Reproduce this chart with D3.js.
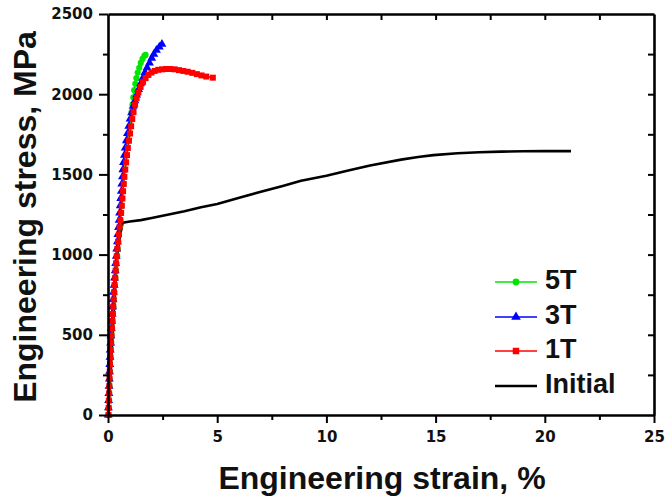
<!DOCTYPE html>
<html><head><meta charset="utf-8">
<script src="https://cdn.jsdelivr.net/npm/d3@7"></script>
<style>
html,body{margin:0;padding:0;background:#fff;}
svg{display:block;}
.tick text{font-family:"DejaVu Sans",sans-serif;font-weight:bold;font-size:15px;fill:#111;}
</style>
</head><body>
<svg id="chart" width="671" height="498"></svg>
<script>
// ---- data ----
const seriesNames = ["5T", "3T", "1T", "Initial"];
const xTicks = [0, 5, 10, 15, 20, 25];
const yTicks = [0, 500, 1000, 1500, 2000, 2500];
const xMinor = [2.5, 7.5, 12.5, 17.5, 22.5];
const yMinor = [250, 750, 1250, 1750, 2250];

const strain5T = [0.03,0.04,0.05,0.06,0.07,0.08,0.09,0.10,0.12,0.13,0.15,0.17,0.19,0.21,0.23,0.25,0.27,0.29,0.32,0.34,0.37,0.39,0.42,0.45,0.48,0.51,0.54,0.57,0.60,0.62,0.65,0.68,0.71,0.73,0.76,0.80,0.83,0.87,0.91,0.96,1.00,1.04,1.08,1.12,1.16,1.20,1.25,1.30,1.36,1.43,1.50,1.58,1.67,1.72];
const stress5T = [0,45,90,135,180,225,270,315,360,405,450,495,540,585,630,675,720,765,810,855,900,945,990,1035,1080,1125,1170,1215,1260,1305,1350,1395,1440,1485,1530,1575,1620,1665,1710,1755,1800,1845,1890,1935,1980,2025,2065,2100,2135,2165,2195,2220,2240,2245];

const strain3T = [0.01,0.02,0.03,0.04,0.05,0.06,0.07,0.08,0.09,0.10,0.12,0.13,0.15,0.17,0.19,0.21,0.23,0.25,0.28,0.30,0.33,0.35,0.38,0.40,0.43,0.45,0.48,0.51,0.53,0.56,0.58,0.61,0.63,0.66,0.68,0.71,0.75,0.79,0.84,0.89,0.95,1.01,1.08,1.15,1.23,1.31,1.40,1.49,1.59,1.69,1.79,1.90,2.00,2.10,2.22,2.35,2.47];
const stress3T = [0,45,90,135,180,225,270,315,360,405,450,495,540,585,630,675,720,765,810,855,900,945,990,1035,1080,1125,1170,1215,1260,1305,1350,1395,1440,1485,1530,1575,1620,1665,1710,1755,1800,1845,1885,1925,1960,1995,2030,2065,2100,2135,2165,2195,2225,2250,2275,2295,2312];

const strain1T = [0.02,0.03,0.04,0.05,0.06,0.07,0.08,0.09,0.11,0.12,0.14,0.16,0.18,0.20,0.22,0.24,0.26,0.28,0.30,0.33,0.35,0.37,0.40,0.43,0.46,0.50,0.53,0.56,0.60,0.63,0.66,0.69,0.72,0.75,0.79,0.83,0.87,0.91,0.96,1.01,1.06,1.11,1.17,1.24,1.31,1.39,1.49,1.60,1.72,1.85,1.99,2.14,2.30,2.48,2.66,2.85,3.05,3.25,3.45,3.65,3.86,4.07,4.28,4.50,4.80];
const stress1T = [0,45,90,135,180,225,270,315,360,405,450,495,540,585,630,675,720,765,810,855,900,945,990,1035,1080,1125,1170,1215,1260,1305,1350,1395,1440,1485,1530,1575,1620,1665,1710,1755,1800,1845,1890,1935,1975,2010,2045,2075,2100,2120,2135,2145,2152,2155,2157,2157,2155,2150,2145,2140,2133,2125,2117,2110,2103];

const strainInit = [0,0.05,0.10,0.15,0.20,0.25,0.30,0.37,0.45,0.55,0.67,0.80,1.0,1.5,2.0,2.5,3.0,3.5,4.26,5.0,6.09,7.0,8.0,8.84,10.0,11.0,12.0,13.42,14.2,14.9,16.0,17.0,18.0,19.0,20.0,21.2];
const stressInit = [0,100,220,350,480,600,730,900,1020,1120,1198,1202,1206,1215,1228,1242,1256,1270,1295,1316,1358,1392,1428,1460,1492,1524,1556,1592,1608,1620,1632,1638,1642,1644,1645,1645];

const colors = {"5T":"#00e600","3T":"#0000ff","1T":"#ff0000","Initial":"#000000"};

// ---- layout ----
const svg = d3.select("#chart");
const L = 108, R = 654, T = 14, B = 415;
const x = d3.scaleLinear().domain([0, 25]).range([L, R]);
const y = d3.scaleLinear().domain([0, 2500]).range([B, T]);

const ser = {
  "5T": d3.zip(strain5T, stress5T),
  "3T": d3.zip(strain3T, stress3T),
  "1T": d3.zip(strain1T, stress1T),
  "Initial": d3.zip(strainInit, stressInit)
};

const line = d3.line().x(d => x(d[0])).y(d => y(d[1]));

// plot data
const plot = svg.append("g");
plot.append("path").datum(ser["Initial"]).attr("d", line)
  .attr("fill","none").attr("stroke","#000").attr("stroke-width",2.6).attr("stroke-linejoin","round");

const symType = {"5T": d3.symbolCircle, "3T": d3.symbolTriangle, "1T": d3.symbolSquare};
const symSize = {"5T": 30, "3T": 34, "1T": 36};
["5T","3T","1T"].forEach(k => {
  const g = plot.append("g");
  g.append("path").datum(ser[k]).attr("d", line)
    .attr("fill","none").attr("stroke",colors[k]).attr("stroke-width",1.5);
  g.selectAll("path.m").data(ser[k]).join("path").attr("class","m")
    .attr("transform", d => `translate(${x(d[0])},${y(d[1])})`)
    .attr("d", d3.symbol().type(symType[k]).size(symSize[k]))
    .attr("fill", colors[k]);
});

// axes
function styleAxis(g){
  g.select(".domain").attr("stroke","#000").attr("stroke-width",2.6);
  g.selectAll(".tick line").attr("stroke","#000").attr("stroke-width",2);
}
const gx = svg.append("g").attr("transform",`translate(0,${B})`)
  .call(d3.axisBottom(x).tickValues(xTicks).tickFormat(d3.format("d")).tickSizeInner(8).tickSizeOuter(0).tickPadding(8));
styleAxis(gx);
const gxm = svg.append("g").attr("transform",`translate(0,${B})`)
  .call(d3.axisBottom(x).tickValues(xMinor).tickFormat("").tickSizeInner(5).tickSizeOuter(0));
styleAxis(gxm); gxm.select(".domain").remove();

const gy = svg.append("g").attr("transform",`translate(${L},0)`)
  .call(d3.axisLeft(y).tickValues(yTicks).tickFormat(d3.format("d")).tickSizeInner(9).tickSizeOuter(0).tickPadding(6));
styleAxis(gy);
const gym = svg.append("g").attr("transform",`translate(${L},0)`)
  .call(d3.axisLeft(y).tickValues(yMinor).tickFormat("").tickSizeInner(5).tickSizeOuter(0));
styleAxis(gym); gym.select(".domain").remove();

// top and right (inward ticks)
const gt = svg.append("g").attr("transform",`translate(0,${T})`)
  .call(d3.axisBottom(x).tickValues(xTicks.concat(xMinor).filter(v=>v>0&&v<25)).tickFormat("").tickSizeInner(6).tickSizeOuter(0));
styleAxis(gt);
const gr = svg.append("g").attr("transform",`translate(${R},0)`)
  .call(d3.axisLeft(y).tickValues(yTicks.concat(yMinor).filter(v=>v>0&&v<2500)).tickFormat("").tickSizeInner(-6).tickSizeOuter(0));
gr.selectAll(".tick line").attr("x2", -6);
styleAxis(gr);

// axis titles
svg.append("text").attr("x", 382).attr("y", 489).attr("text-anchor","middle")
  .attr("font-family","Liberation Sans, Arial, sans-serif").attr("font-weight","bold").attr("font-size",32).attr("fill","#111")
  .text("Engineering strain, %");
svg.append("text").attr("transform","translate(36,217) rotate(-90)").attr("text-anchor","middle")
  .attr("font-family","Liberation Sans, Arial, sans-serif").attr("font-weight","bold").attr("font-size",32).attr("fill","#111")
  .text("Engineering stress, MPa");

// legend
const legY = [282, 317, 351, 386];
seriesNames.forEach((k, i) => {
  const g = svg.append("g").attr("transform",`translate(0,${legY[i]})`);
  g.append("line").attr("x1",495).attr("x2",537).attr("y1",0).attr("y2",0)
    .attr("stroke",colors[k]).attr("stroke-width", k==="Initial"?2.6:1.5);
  if (symType[k]) {
    g.append("path").attr("transform","translate(516,0)")
      .attr("d", d3.symbol().type(symType[k]).size(symSize[k]+6)).attr("fill",colors[k]);
  }
  g.append("text").attr("x",545).attr("y",7).attr("font-family","Liberation Sans, Arial, sans-serif")
    .attr("font-weight","bold").attr("font-size",27).attr("fill","#111").text(k);
});
</script>
</body></html>
